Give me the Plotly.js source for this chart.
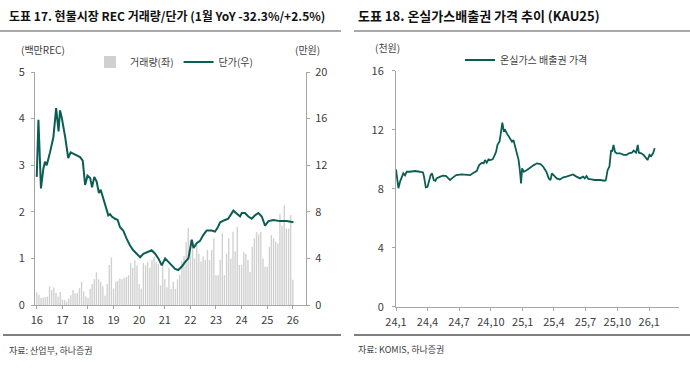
<!DOCTYPE html>
<html><head><meta charset="utf-8">
<script src="https://cdn.plot.ly/plotly-3.0.1.min.js"></script>
<style>html,body{margin:0;padding:0;background:#fff}#c{width:690px;height:370px}</style>
</head><body><div id="c"></div>
<script>
// ---- Left chart: REC spot market volume (monthly, million REC) ----
const vol2016 = [0.27,0.22,0.15,0.16,0.17,0.18,0.40,0.32,0.38,0.26,0.18,0.28];
const vol2017 = [0.12,0.11,0.07,0.14,0.21,0.32,0.25,0.25,0.36,0.50,0.29,0.18];
const vol2018 = [0.15,0.35,0.45,0.55,0.70,0.55,0.50,0.40,0.20,0.45,0.86,1.02];
const vol2019 = [0.35,0.50,0.52,0.57,0.55,0.58,0.60,0.64,0.90,0.80,0.96,0.85];
const vol2020 = [0.45,0.35,0.90,0.85,0.92,0.80,0.96,1.04,0.92,0.88,0.42,0.88];
const vol2021 = [0.55,0.38,0.80,0.35,0.50,0.35,0.55,0.65,0.95,1.05,1.35,1.65];
const vol2022 = [1.40,1.30,1.00,1.30,1.10,0.93,1.04,0.97,1.18,0.97,1.18,1.43];
const vol2023 = [0.64,0.64,0.97,1.54,0.64,1.10,1.43,1.00,1.57,1.15,1.68,0.86];
const vol2024 = [0.86,1.14,1.10,0.97,0.71,1.25,1.43,1.57,1.52,1.57,1.00,0.82];
const vol2025 = [0.82,1.25,1.50,1.43,1.36,1.32,1.96,1.70,2.14,1.64,1.64,1.93];
const vol2026 = [0.54];
const volYears = [2016,2017,2018,2019,2020,2021,2022,2023,2024,2025,2026];

// REC unit price (10k KRW)
const priceDates = ['2016-01-01','2016-01-25','2016-03-01','2016-04-04','2016-04-28','2016-05-22','2016-07-08','2016-08-25','2016-10-04','2016-11-07','2016-11-28','2016-12-22',
 '2017-02-10','2017-03-25','2017-04-28','2017-07-01','2017-09-10','2017-10-18','2017-11-21','2017-12-25',
 '2018-02-01','2018-02-28','2018-04-01','2018-05-04','2018-06-06','2018-07-01','2018-08-08','2018-10-18','2018-11-12','2018-12-06',
 '2019-01-22','2019-03-01','2019-04-01','2019-05-18','2019-07-06','2019-08-24','2019-10-09','2019-11-27',
 '2020-01-15','2020-03-01','2020-05-12','2020-06-27','2020-08-15','2020-10-01','2020-11-18',
 '2021-01-06','2021-02-21','2021-04-10','2021-05-28','2021-07-12','2021-09-01','2021-10-18','2021-12-03',
 '2022-01-21','2022-02-15','2022-04-01','2022-05-18','2022-07-03','2022-08-21','2022-11-01','2022-12-18',
 '2023-01-21','2023-03-01','2023-05-10','2023-06-24','2023-09-06','2023-10-21','2023-12-10',
 '2024-01-04','2024-02-18','2024-04-06','2024-05-25','2024-07-10','2024-08-28','2024-10-15','2024-12-01',
 '2025-01-18','2025-03-28','2025-07-01','2025-10-06','2026-01-10'];
const priceValues = [11.0,15.9,10.0,11.7,12.3,12.0,13.1,14.4,16.9,14.9,16.7,16.1,
 14.4,12.6,13.1,12.9,12.7,12.4,10.3,11.1,
 10.9,10.1,11.0,10.6,9.6,9.9,9.1,7.7,7.8,7.6,
 7.4,7.3,6.7,6.4,5.7,5.1,4.7,4.4,
 4.1,4.4,4.6,4.7,4.4,4.0,3.4,
 4.0,3.7,3.4,3.1,3.0,3.3,3.7,4.0,
 5.6,4.9,5.3,5.5,6.0,6.4,6.4,6.3,
 6.6,7.1,7.3,7.4,8.1,7.9,7.6,
 7.9,7.9,7.6,7.4,7.7,7.9,7.6,6.8,
 7.2,7.3,7.2,7.2,7.1];

const leftTickVals = ['2016-01-01','2017-01-01','2018-01-01','2019-01-01','2020-01-01','2021-01-01','2022-01-01','2023-01-01','2024-01-01','2025-01-01','2026-01-01'];
const leftTickText = ['16','17','18','19','20','21','22','23','24','25','26'];

// ---- Right chart: KAU25 price (thousand KRW) ----
const kauDates = ['2024-01-01','2024-01-04','2024-01-08','2024-01-13','2024-01-17','2024-01-22','2024-01-27','2024-02-01','2024-02-10','2024-02-25',
 '2024-03-09','2024-03-19','2024-03-22','2024-03-27','2024-04-01','2024-04-05','2024-04-10','2024-04-14','2024-04-19','2024-04-24','2024-04-27',
 '2024-05-06','2024-05-16','2024-05-25','2024-06-05','2024-06-14','2024-06-23','2024-07-08','2024-07-22','2024-08-02','2024-08-12','2024-08-21','2024-08-28',
 '2024-09-05','2024-09-10','2024-09-14','2024-09-19','2024-09-24','2024-09-29','2024-10-06','2024-10-10','2024-10-16','2024-10-20','2024-10-26','2024-10-31',
 '2024-11-03','2024-11-07','2024-11-11','2024-11-16','2024-11-21','2024-11-26','2024-12-01','2024-12-05','2024-12-10','2024-12-15','2024-12-20','2024-12-24','2024-12-27','2024-12-30',
 '2025-01-04','2025-01-13','2025-01-23','2025-02-02','2025-02-11','2025-02-21','2025-03-01','2025-03-10','2025-03-17','2025-03-22','2025-03-26',
 '2025-04-01','2025-04-09','2025-04-18','2025-04-28','2025-05-07','2025-05-17','2025-05-26','2025-06-05','2025-06-15','2025-06-24','2025-06-29',
 '2025-07-04','2025-07-09','2025-07-18','2025-07-28','2025-08-12','2025-08-26','2025-08-29','2025-09-03','2025-09-08','2025-09-11','2025-09-13','2025-09-16','2025-09-20','2025-09-24','2025-09-29',
 '2025-10-09','2025-10-19','2025-10-28','2025-11-03','2025-11-12','2025-11-17','2025-11-24','2025-11-29','2025-12-02','2025-12-09','2025-12-16','2025-12-20','2025-12-27',
 '2026-01-02','2026-01-07','2026-01-12','2026-01-17'];
const kauValues = [9.31,8.82,8.03,8.5,8.8,9.04,8.9,9.15,9.15,9.2,
 9.15,9.1,8.8,8.09,8.13,8.47,8.92,9.04,8.59,8.54,8.7,
 8.8,8.88,8.86,8.59,8.77,8.92,8.97,8.92,8.92,9.08,9.2,9.6,
 9.76,9.72,9.94,9.76,9.99,9.94,9.99,10.17,10.51,10.97,11.2,11.98,
 12.48,11.93,11.98,11.75,11.57,11.41,11.19,11.3,10.85,10.4,9.94,9.15,8.36,9.38,
 9.15,9.27,9.45,9.6,9.72,9.67,9.49,9.15,8.7,8.59,9.04,
 8.86,8.7,8.63,8.77,8.82,8.92,8.97,8.82,8.7,8.82,8.7,
 8.86,8.66,8.63,8.59,8.59,8.54,8.59,9.27,9.49,10.17,10.62,10.51,10.97,10.51,10.4,
 10.4,10.29,10.29,10.4,10.44,10.58,10.44,10.97,10.44,10.4,10.29,10.17,9.94,
 10.29,10.22,10.4,10.74];

const rightTickVals = ['2024-01-01','2024-04-01','2024-07-01','2024-10-01','2025-01-01','2025-04-01','2025-07-01','2025-10-01','2026-01-01'];
const rightTickText = ['24,1','24,4','24,7','24,10','25,1','25,4','25,7','25,10','26,1'];

// build monthly categories for the volume bars
const volSeries = [vol2016,vol2017,vol2018,vol2019,vol2020,vol2021,vol2022,vol2023,vol2024,vol2025,vol2026];
const volDates = [], volValues = [];
volSeries.forEach((arr, i) => arr.forEach((v, m) => {
  volDates.push(volYears[i] + '-' + String(m + 1).padStart(2, '0') + '-01');
  volValues.push(v);
}));

const FONT = 'Liberation Sans Narrow, Noto Sans CJK KR, sans-serif';
const KFONT = 'Noto Sans CJK KR, sans-serif';
const GREEN = '#0b5e53';
const AX = '#a6a6a6';
const TXT = '#404040';

const traces = [
  {type:'bar', x:volDates, y:volValues, name:'거래량(좌)', marker:{color:'#d0d0d0'},
   xaxis:'x', yaxis:'y', legend:'legend', hoverinfo:'skip'},
  {type:'scatter', mode:'lines', x:priceDates, y:priceValues, name:'단가(우)',
   line:{color:GREEN, width:2}, xaxis:'x', yaxis:'y2', legend:'legend'},
  {type:'scatter', mode:'lines', x:kauDates, y:kauValues, name:'온실가스 배출권 가격',
   line:{color:GREEN, width:1.8}, xaxis:'x2', yaxis:'y3', legend:'legend2'}
];

const axBase = {showgrid:false, zeroline:false, showline:true, linecolor:AX, linewidth:1,
  ticks:'outside', ticklen:3, tickcolor:AX, tickfont:{family:FONT, size:11, color:TXT}, fixedrange:true};

const H = 370, W = 690;
const py = p => (H - p) / H;
const px = p => p / W;

const layout = {
  width: W, height: H, margin:{l:0,r:0,t:0,b:0},
  paper_bgcolor:'#fff', plot_bgcolor:'rgba(0,0,0,0)',
  bargap: 0.3,
  font:{family:FONT, color:TXT},
  xaxis: Object.assign({}, axBase, {type:'date', domain:[px(35), px(306)], range:['2015-12-07','2026-07-08'],
    tickmode:'array', tickvals:leftTickVals, ticktext:leftTickText, anchor:'y', ticklabelstandoff:2}),
  yaxis: Object.assign({}, axBase, {domain:[py(305), py(72)], range:[0,5], tickmode:'array', tickvals:[0,1,2,3,4,5], anchor:'x', ticklabelstandoff:4}),
  yaxis2: Object.assign({}, axBase, {overlaying:'y', side:'right', range:[0,20], tickmode:'array', tickvals:[0,4,8,12,16,20], anchor:'x', ticklabelstandoff:3}),
  xaxis2: Object.assign({}, axBase, {type:'date', domain:[px(396), px(679)], range:['2024-01-01','2026-03-28'],
    tickmode:'array', tickvals:rightTickVals, ticktext:rightTickText, anchor:'y3', ticklabelstandoff:2}),
  yaxis3: Object.assign({}, axBase, {domain:[py(306.7), py(70.7)], range:[0,16], tickmode:'array', tickvals:[0,4,8,12,16], anchor:'x2', ticklabelstandoff:6}),
  legend: {orientation:'h', x:px(90), y:py(62), xanchor:'left', yanchor:'middle', bgcolor:'rgba(0,0,0,0)',
    font:{family:KFONT, size:10, color:TXT}, itemwidth:30, tracegroupgap:0},
  legend2: {orientation:'h', x:px(460), y:py(60), xanchor:'left', yanchor:'middle', bgcolor:'rgba(0,0,0,0)',
    font:{family:KFONT, size:10, color:TXT}, itemwidth:30},
  showlegend: true,
  shapes: [
    {type:'line', xref:'paper', yref:'paper', x0:0, x1:px(341), y0:py(31), y1:py(31), line:{color:'#8c8c8c', width:1.5}},
    {type:'line', xref:'paper', yref:'paper', x0:px(354), x1:1, y0:py(31), y1:py(31), line:{color:'#8c8c8c', width:1.5}},
    {type:'line', xref:'paper', yref:'paper', x0:px(3), x1:px(341), y0:py(335), y1:py(335), line:{color:'#555', width:1.5}},
    {type:'line', xref:'paper', yref:'paper', x0:px(354), x1:1, y0:py(335), y1:py(335), line:{color:'#555', width:1.5}}
  ],
  annotations: [
    {text:'<b>도표 17. 현물시장 REC 거래량/단가 (1월 YoY -32.3%/+2.5%)</b>', xref:'paper', yref:'paper', x:px(7), y:py(15),
     xanchor:'left', yanchor:'middle', showarrow:false, font:{family:FONT, size:12, color:'#111'}},
    {text:'<b>도표 18. 온실가스배출권 가격 추이 (KAU25)</b>', xref:'paper', yref:'paper', x:px(356), y:py(15),
     xanchor:'left', yanchor:'middle', showarrow:false, font:{family:FONT, size:13, color:'#111'}},
    {text:'(백만REC)', xref:'paper', yref:'paper', x:px(43), y:py(50), xanchor:'center', yanchor:'middle', showarrow:false,
     font:{family:FONT, size:10, color:TXT}},
    {text:'(만원)', xref:'paper', yref:'paper', x:px(307), y:py(50), xanchor:'center', yanchor:'middle', showarrow:false,
     font:{family:FONT, size:10, color:TXT}},
    {text:'(천원)', xref:'paper', yref:'paper', x:px(387), y:py(47), xanchor:'center', yanchor:'middle', showarrow:false,
     font:{family:FONT, size:10, color:TXT}},
    {text:'자료: 산업부, 하나증권', xref:'paper', yref:'paper', x:px(7), y:py(350), xanchor:'left', yanchor:'middle', showarrow:false,
     font:{family:FONT, size:9, color:TXT}},
    {text:'자료: KOMIS, 하나증권', xref:'paper', yref:'paper', x:px(356), y:py(349), xanchor:'left', yanchor:'middle', showarrow:false,
     font:{family:FONT, size:9, color:TXT}}
  ]
};

Plotly.newPlot('c', traces, layout, {staticPlot:true, displayModeBar:false});
</script>
</body></html>
